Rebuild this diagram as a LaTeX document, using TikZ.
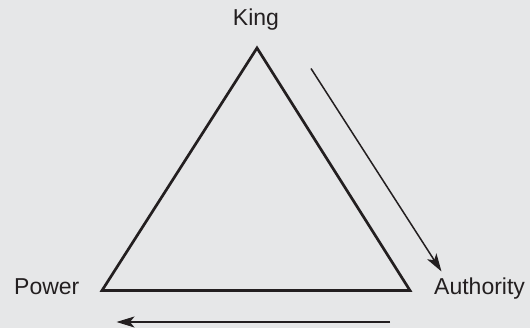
\documentclass[tikz,border=0pt]{standalone}
\usepackage{fontspec}
\setmainfont{Liberation Sans}
\usetikzlibrary{positioning, arrows.meta}

\definecolor{bggray}{RGB}{230,231,232}
\definecolor{inkgray}{RGB}{35,31,32}

\begin{document}
\begin{tikzpicture}[x=1pt, y=-1pt,
    label/.style={inner sep=0pt, text=inkgray, font=\fontsize{23}{27}\selectfont},
    side/.style={draw=inkgray, line width=2.7pt, line join=miter},
    flow/.style={draw=inkgray, line width=1.5pt,
        -{Stealth[length=18pt, width=11pt, inset=4.5pt]}}]
    % Background
    \fill[bggray] (0, 0) rectangle (530, 328);
    
    % Labels
    \node[label, anchor=base] (king) at (256, 25.7) {King};
    \node[label, anchor=base west] (power) at (14, 295) {Power};
    \node[label, anchor=base west] (authority) at (434, 295) {Authority};
    
    % Corners of the triangle
    \coordinate (top) at (257, 48);
    \coordinate (left) at (102, 290.5);
    \coordinate (right) at (410, 290.5);
    
    % Triangle
    \draw[side] (top) -- (right) -- (left) -- cycle;
    
    % Arrow ends
    \coordinate (a1) at (311, 68.5);
    \coordinate (a2) at (441.5, 271.5);
    \coordinate (b1) at (390, 322);
    \coordinate (b2) at (116.5, 322);
    
    % Arrows
    \draw[flow] (a1) -- (a2);
    \draw[flow] (b1) -- (b2);
\end{tikzpicture}
\end{document}
